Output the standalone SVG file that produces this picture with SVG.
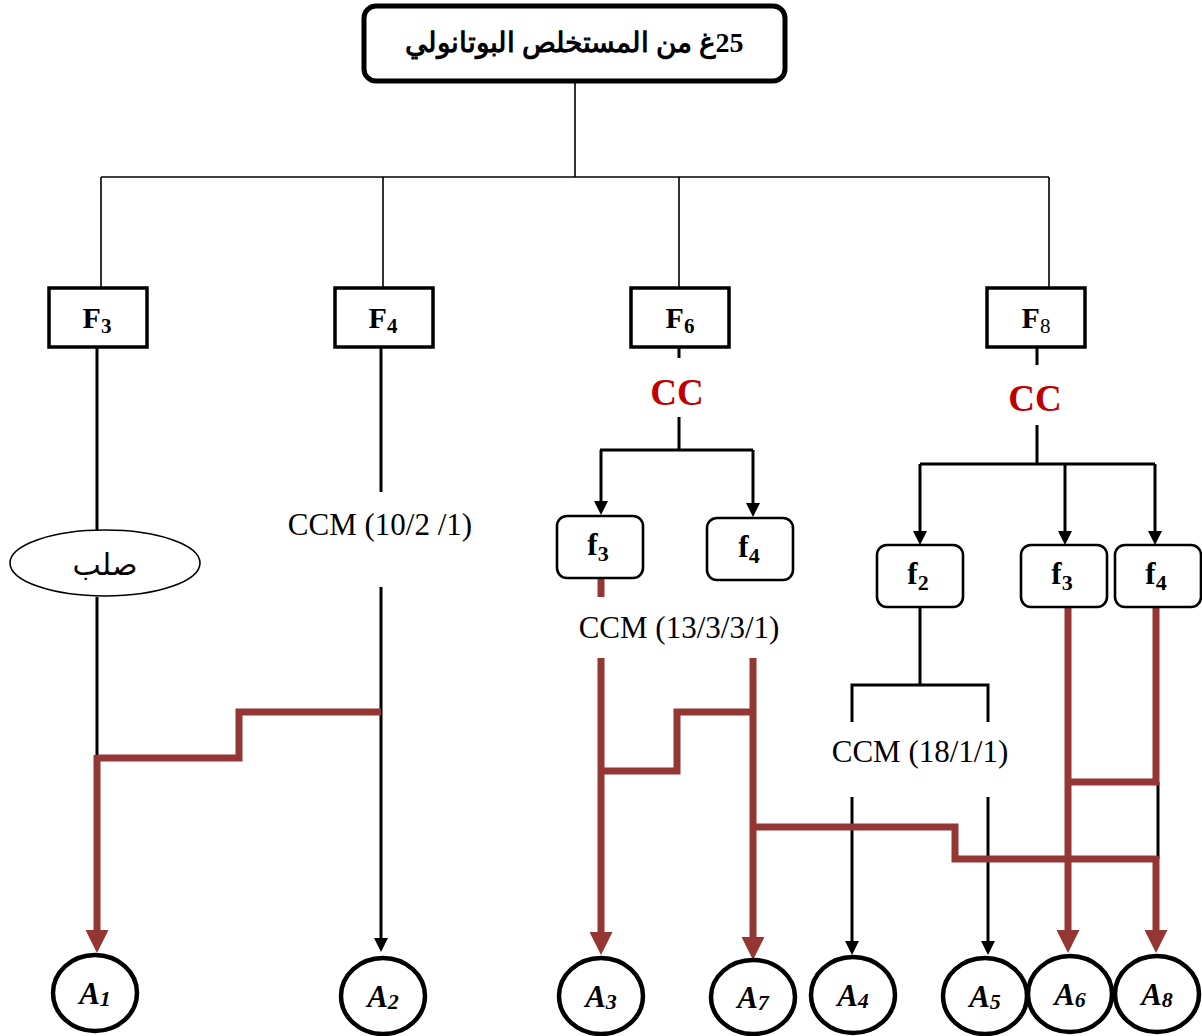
<svg xmlns="http://www.w3.org/2000/svg" width="1202" height="1036" viewBox="0 0 1202 1036">
<style>
.thin{stroke:#000;stroke-width:1.6;fill:none}
.blk{stroke:#000;stroke-width:3;fill:none}
.red{stroke:#943634;stroke-width:7;fill:none}
.fbox{fill:#fff;stroke:#000;stroke-width:3.5}
.sbox{fill:#fff;stroke:#000;stroke-width:2.6}
.circ{fill:#fff;stroke:#000;stroke-width:4.5}
.lbl{font-family:"Liberation Serif","DejaVu Serif",serif;font-weight:bold;text-anchor:middle;fill:#000}
.ccm{font-family:"Liberation Serif","DejaVu Serif",serif;font-size:31px;text-anchor:middle;fill:#000}
.cc{font-family:"Liberation Serif","DejaVu Serif",serif;font-size:37px;font-weight:bold;text-anchor:middle;fill:#c00000}
.al{font-family:"Liberation Serif","DejaVu Serif",serif;font-weight:bold;font-style:italic;font-size:31px;text-anchor:middle;fill:#000}
</style>
<defs>
<marker id="ab" markerUnits="userSpaceOnUse" viewBox="0 0 10 10" refX="0" refY="5" markerWidth="14" markerHeight="14" orient="auto"><path d="M0,0 L10,5 L0,10 z" fill="#000"/></marker>
<marker id="ar" markerUnits="userSpaceOnUse" viewBox="0 0 10 10" refX="0" refY="5" markerWidth="23" markerHeight="23" orient="auto"><path d="M0,0 L10,5 L0,10 z" fill="#943634"/></marker>
</defs>
<g id="connectors">
<path class="thin" d="M575,82 V177 M101,177 H1049 M101,177 V288 M383,177 V288 M679,177 V288 M1049,177 V288"/>
<path class="blk" d="M97,347 V530 M97,597 V760"/>
<path class="blk" d="M381,347 V492"/>
<path class="blk" d="M381,587 V938" marker-end="url(#ab)"/>
<path class="blk" d="M679,347 V358 M679,417 V450 M600,450 H753"/>
<path class="blk" d="M601,450 V501" marker-end="url(#ab)"/>
<path class="blk" d="M753,450 V503" marker-end="url(#ab)"/>
<path class="blk" d="M1037,347 V365 M1037,425 V464 M920,464 H1155"/>
<path class="blk" d="M920,464 V531" marker-end="url(#ab)"/>
<path class="blk" d="M1065,464 V531" marker-end="url(#ab)"/>
<path class="blk" d="M1155,464 V531" marker-end="url(#ab)"/>
<path class="blk" d="M920,607 V685 M852,722 V685 H988 V722"/>
<path class="blk" d="M852,797 V941" marker-end="url(#ab)"/>
<path class="blk" d="M988,797 V941" marker-end="url(#ab)"/>
<path class="blk" d="M1158,782 V859"/>
<path class="red" d="M381,712 H239 V758 H97"/>
<path class="red" d="M97,755 V930" marker-end="url(#ar)"/>
<path class="red" d="M601,578 V597"/>
<path class="red" d="M601,658 V932" marker-end="url(#ar)"/>
<path class="red" d="M601,771 H677 V712 H753"/>
<path class="red" d="M753,658 V937" marker-end="url(#ar)"/>
<path class="red" d="M753,827 H955 V859 H1156"/>
<path class="red" d="M1068,607 V930" marker-end="url(#ar)"/>
<path class="red" d="M1156,607 V785 M1068,782 H1159"/>
<path class="red" d="M1156,856 V930" marker-end="url(#ar)"/>
</g>
<g id="root">
<rect x="364" y="6" width="421" height="75" rx="12" fill="#fff" stroke="#000" stroke-width="5"/>
<text x="574" y="52" class="lbl" font-size="28" direction="rtl" font-family="Liberation Serif, DejaVu Sans, serif">25غ من المستخلص البوتانولي</text>
</g>
<g id="F3"><rect class="fbox" x="49" y="288" width="98" height="59"/><text class="lbl" x="97" y="328" font-size="30">F<tspan font-size="21" dy="5">3</tspan></text></g>
<g id="F4"><rect class="fbox" x="335" y="288" width="98" height="59"/><text class="lbl" x="383" y="328" font-size="30">F<tspan font-size="21" dy="5">4</tspan></text></g>
<g id="F6"><rect class="fbox" x="631" y="288" width="98" height="59"/><text class="lbl" x="680" y="328" font-size="30">F<tspan font-size="21" dy="5">6</tspan></text></g>
<g id="F8"><rect class="fbox" x="987" y="288" width="98" height="59"/><text class="lbl" x="1036" y="328" font-size="30">F<tspan font-size="21" dy="5" font-weight="normal">8</tspan></text></g>
<g id="solid"><ellipse cx="105" cy="563" rx="95" ry="33" fill="#fff" stroke="#000" stroke-width="1.6"/><text x="105" y="575" font-size="30" text-anchor="middle" font-family="Liberation Serif, DejaVu Sans, serif">صلب</text></g>
<g id="ccm1"><text class="ccm" x="380" y="535">CCM (10/2 /1)</text></g>
<g id="cc1"><text class="cc" x="677" y="405">CC</text></g>
<g id="cc2"><text class="cc" x="1035" y="411">CC</text></g>
<g id="f3a"><rect class="sbox" x="557" y="516" width="86" height="62" rx="10"/><text class="lbl" x="598" y="555" font-size="31">f<tspan font-size="22" dy="6">3</tspan></text></g>
<g id="f4a"><rect class="sbox" x="707" y="518" width="86" height="62" rx="10"/><text class="lbl" x="749" y="557" font-size="31">f<tspan font-size="22" dy="6">4</tspan></text></g>
<g id="f2b"><rect class="sbox" x="877" y="545" width="86" height="62" rx="10"/><text class="lbl" x="918" y="584" font-size="31">f<tspan font-size="22" dy="6">2</tspan></text></g>
<g id="f3b"><rect class="sbox" x="1021" y="545" width="86" height="62" rx="10"/><text class="lbl" x="1062" y="584" font-size="31">f<tspan font-size="22" dy="6">3</tspan></text></g>
<g id="f4b"><rect class="sbox" x="1115" y="545" width="86" height="62" rx="10"/><text class="lbl" x="1156" y="584" font-size="31">f<tspan font-size="22" dy="6">4</tspan></text></g>
<g id="ccm2"><text class="ccm" x="679" y="638">CCM (13/3/3/1)</text></g>
<g id="ccm3"><text class="ccm" x="920" y="762">CCM (18/1/1)</text></g>
<g id="A1"><ellipse class="circ" cx="95" cy="993" rx="42" ry="38"/><text class="al" x="95" y="1004">A<tspan font-size="22" dy="2">1</tspan></text></g>
<g id="A2"><ellipse class="circ" cx="383" cy="996" rx="42" ry="38"/><text class="al" x="383" y="1007">A<tspan font-size="22" dy="2">2</tspan></text></g>
<g id="A3"><ellipse class="circ" cx="601" cy="996" rx="42" ry="38"/><text class="al" x="601" y="1007">A<tspan font-size="22" dy="2">3</tspan></text></g>
<g id="A7"><ellipse class="circ" cx="753" cy="997" rx="42" ry="37"/><text class="al" x="753" y="1008">A<tspan font-size="22" dy="2">7</tspan></text></g>
<g id="A4"><ellipse class="circ" cx="853" cy="995" rx="42" ry="38"/><text class="al" x="853" y="1006">A<tspan font-size="22" dy="2">4</tspan></text></g>
<g id="A5"><ellipse class="circ" cx="985" cy="996" rx="42" ry="38"/><text class="al" x="985" y="1007">A<tspan font-size="22" dy="2">5</tspan></text></g>
<g id="A6"><ellipse class="circ" cx="1070" cy="994" rx="42" ry="38"/><text class="al" x="1070" y="1005">A<tspan font-size="22" dy="2">6</tspan></text></g>
<g id="A8"><ellipse class="circ" cx="1157" cy="994" rx="42" ry="38"/><text class="al" x="1157" y="1005">A<tspan font-size="22" dy="2">8</tspan></text></g>
</svg>
